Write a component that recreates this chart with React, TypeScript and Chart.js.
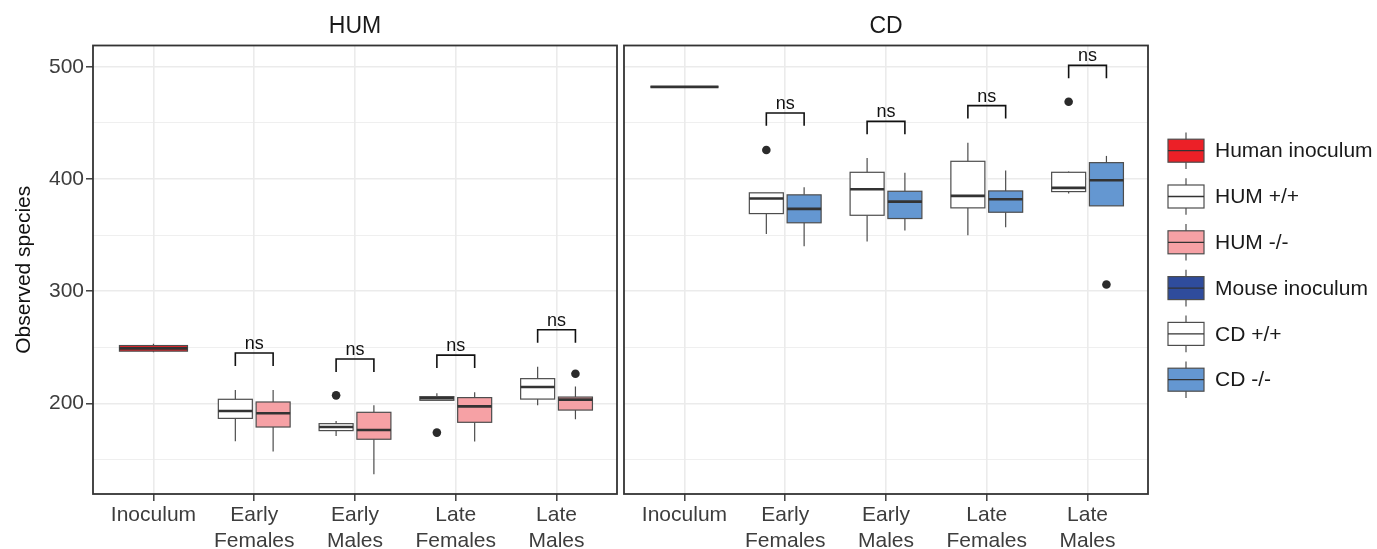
import React, { useEffect, useRef } from 'react';
import { Chart, registerables } from 'chart.js';

Chart.register(...registerables);

const FONT = '"Liberation Sans", Arial, Helvetica, sans-serif';

// ---------- data ----------
const CATEGORIES: (string | string[])[] = ['Inoculum', ['Early', 'Females'], ['Early', 'Males'], ['Late', 'Females'], ['Late', 'Males']];
const PANELS = ['HUM', 'CD'];
const Y_GRID = [150, 200, 250, 300, 350, 400, 450, 500];
const Y_MAJOR = [200, 300, 400, 500];
const Y_MIN = 119.2;
const Y_MAX = 518.9;
const Y_TITLE = 'Observed species';

// inoculum boxes: [min, q1, median, q3, max]
const HUM_INOCULUM = [245.5, 246.5, 249, 251.5, 253];
const CD_INOCULUM = [482, 482, 482, 482, 482];

// groups: Early Females, Early Males, Late Females, Late Males
const HUM_WT_MIN = [166.2, 170.9, 202.7, 198.2];
const HUM_WT_Q1 = [186.6, 175.7, 202.7, 203.8];
const HUM_WT_MED = [193.2, 178.9, 204.5, 214.5];
const HUM_WT_Q3 = [203.6, 181.9, 206.0, 222.0];
const HUM_WT_MAX = [211.9, 184.3, 208.9, 232.7];
const HUM_WT_OUTLIERS = [[2, 207.1], [3, 173.9]];

const HUM_KO_MIN = [157.0, 136.8, 165.9, 185.8];
const HUM_KO_Q1 = [178.9, 168.0, 183.1, 194.0];
const HUM_KO_MED = [191.1, 176.3, 197.3, 203.3];
const HUM_KO_Q3 = [201.2, 192.0, 205.1, 205.6];
const HUM_KO_MAX = [211.9, 198.2, 209.8, 214.9];
const HUM_KO_OUTLIERS = [[4, 226.4]];

const CD_WT_MIN = [351.0, 344.2, 349.8, 387.0];
const CD_WT_Q1 = [369.1, 367.6, 374.2, 388.7];
const CD_WT_MED = [382.5, 390.8, 384.9, 392.0];
const CD_WT_Q3 = [387.6, 405.9, 415.7, 405.9];
const CD_WT_MAX = [387.6, 418.7, 432.3, 406.5];
const CD_WT_OUTLIERS = [[1, 425.8], [4, 468.8]];

const CD_KO_MIN = [340.0, 354.0, 357.0, 376.0];
const CD_KO_Q1 = [360.9, 364.7, 370.3, 376.0];
const CD_KO_MED = [373.3, 379.8, 381.9, 398.8];
const CD_KO_Q3 = [385.8, 389.0, 389.3, 414.5];
const CD_KO_MAX = [392.6, 405.4, 407.4, 420.5];
const CD_KO_OUTLIERS = [[4, 305.9]];

// significance brackets (top of bracket, per group)
const HUM_BRACKETS = [244.8, 239.5, 243.0, 265.6];
const CD_BRACKETS = [458.8, 451.3, 465.3, 501.2];
const BRACKET_LABELS = ['ns', 'ns', 'ns', 'ns'];

const LEGEND_LABELS = ['Human inoculum', 'HUM +/+', 'HUM -/-', 'Mouse inoculum', 'CD +/+', 'CD -/-'];
const LEGEND_COLORS = ['#EC2027', '#FFFFFF', '#F6A1A5', '#2F4C9C', '#FFFFFF', '#6497D1'];

// ---------- helpers ----------
const statsOf = (mn: number[], q1: number[], md: number[], q3: number[], mx: number[]) =>
  mn.map((_, i) => [mn[i], q1[i], md[i], q3[i], mx[i]]);

const PANEL_DATA = [
  {
    inoc: HUM_INOCULUM, inocColor: LEGEND_COLORS[0],
    wt: statsOf(HUM_WT_MIN, HUM_WT_Q1, HUM_WT_MED, HUM_WT_Q3, HUM_WT_MAX), wtColor: LEGEND_COLORS[1],
    ko: statsOf(HUM_KO_MIN, HUM_KO_Q1, HUM_KO_MED, HUM_KO_Q3, HUM_KO_MAX), koColor: LEGEND_COLORS[2],
    wtOut: HUM_WT_OUTLIERS, koOut: HUM_KO_OUTLIERS, brackets: HUM_BRACKETS,
  },
  {
    inoc: CD_INOCULUM, inocColor: LEGEND_COLORS[3],
    wt: statsOf(CD_WT_MIN, CD_WT_Q1, CD_WT_MED, CD_WT_Q3, CD_WT_MAX), wtColor: LEGEND_COLORS[4],
    ko: statsOf(CD_KO_MIN, CD_KO_Q1, CD_KO_MED, CD_KO_Q3, CD_KO_MAX), koColor: LEGEND_COLORS[5],
    wtOut: CD_WT_OUTLIERS, koOut: CD_KO_OUTLIERS, brackets: CD_BRACKETS,
  },
];

const DODGE = 0.1875;
const HALF_W = 0.16875;
const INOC_HALF_W = 0.3375;
const BRACKET_TIP = 11.5;

const CANVAS_A = { left: 0, width: 625 };
const CANVAS_B = { left: 616, width: 761 };
const HEIGHT = 549;

function drawBox(ctx: CanvasRenderingContext2D, xs: any, ys: any, xc: number, hw: number, s: number[], fill: string) {
  const [mn, q1, md, q3, mx] = s;
  const x = xs.getPixelForValue(xc);
  const xl = xs.getPixelForValue(xc - hw);
  const xr = xs.getPixelForValue(xc + hw);
  const yMn = ys.getPixelForValue(mn);
  const yQ1 = ys.getPixelForValue(q1);
  const yMd = ys.getPixelForValue(md);
  const yQ3 = ys.getPixelForValue(q3);
  const yMx = ys.getPixelForValue(mx);
  ctx.save();
  ctx.strokeStyle = '#4d4d4d';
  ctx.lineWidth = 1.2;
  ctx.beginPath();
  ctx.moveTo(x, yMn); ctx.lineTo(x, yQ1);
  ctx.moveTo(x, yQ3); ctx.lineTo(x, yMx);
  ctx.stroke();
  ctx.fillStyle = fill;
  ctx.fillRect(xl, yQ3, xr - xl, yQ1 - yQ3);
  ctx.strokeRect(xl, yQ3, xr - xl, yQ1 - yQ3);
  ctx.strokeStyle = '#333333';
  ctx.lineWidth = 2.6;
  ctx.beginPath();
  ctx.moveTo(xl, yMd); ctx.lineTo(xr, yMd);
  ctx.stroke();
  ctx.restore();
}

function legendKey(ctx: CanvasRenderingContext2D, cx: number, cy: number, fill: string) {
  ctx.save();
  ctx.strokeStyle = '#4d4d4d';
  ctx.lineWidth = 1.2;
  ctx.beginPath();
  ctx.moveTo(cx, cy - 18.3); ctx.lineTo(cx, cy + 18.3);
  ctx.stroke();
  ctx.fillStyle = fill;
  ctx.fillRect(cx - 18, cy - 11.5, 36, 23);
  ctx.strokeRect(cx - 18, cy - 11.5, 36, 23);
  ctx.strokeStyle = '#333333';
  ctx.lineWidth = 1.3;
  ctx.beginPath();
  ctx.moveTo(cx - 18, cy); ctx.lineTo(cx + 18, cy);
  ctx.stroke();
  ctx.restore();
}

function makePlugin(panel: number, offsetLeft: number) {
  const d = PANEL_DATA[panel];
  return {
    id: 'boxplots' + panel,
    beforeDatasetsDraw(chart: any) {
      const { ctx, scales } = chart;
      const xs = scales.x, ys = scales.y;
      drawBox(ctx, xs, ys, 1, INOC_HALF_W, d.inoc, d.inocColor);
      d.wt.forEach((s, i) => drawBox(ctx, xs, ys, i + 2 - DODGE, HALF_W, s, d.wtColor));
      d.ko.forEach((s, i) => drawBox(ctx, xs, ys, i + 2 + DODGE, HALF_W, s, d.koColor));
    },
    afterDatasetsDraw(chart: any) {
      const { ctx, scales, chartArea } = chart;
      const xs = scales.x, ys = scales.y;
      ctx.save();
      ctx.strokeStyle = '#111111';
      ctx.lineWidth = 1.6;
      ctx.fillStyle = '#111111';
      ctx.font = `18px ${FONT}`;
      ctx.textAlign = 'center';
      ctx.textBaseline = 'alphabetic';
      d.brackets.forEach((top, i) => {
        const xl = xs.getPixelForValue(i + 2 - DODGE);
        const xr = xs.getPixelForValue(i + 2 + DODGE);
        const yt = ys.getPixelForValue(top);
        const yb = ys.getPixelForValue(top - BRACKET_TIP);
        ctx.beginPath();
        ctx.moveTo(xl, yb); ctx.lineTo(xl, yt); ctx.lineTo(xr, yt); ctx.lineTo(xr, yb);
        ctx.stroke();
        ctx.fillText(BRACKET_LABELS[i], xs.getPixelForValue(i + 2), yt - 4);
      });
      ctx.restore();
      ctx.save();
      ctx.strokeStyle = '#333333';
      ctx.lineWidth = 1.8;
      ctx.strokeRect(chartArea.left, chartArea.top, chartArea.right - chartArea.left, chartArea.bottom - chartArea.top);
      ctx.restore();
    },
    afterDraw(chart: any) {
      const { ctx, chartArea } = chart;
      ctx.save();
      ctx.fillStyle = '#1a1a1a';
      ctx.font = `23px ${FONT}`;
      ctx.textAlign = 'center';
      ctx.textBaseline = 'alphabetic';
      ctx.fillText(PANELS[panel], (chartArea.left + chartArea.right) / 2, 33);
      ctx.restore();
      if (panel === 1) {
        ctx.save();
        ctx.font = `21px ${FONT}`;
        ctx.textAlign = 'left';
        ctx.textBaseline = 'middle';
        ctx.fillStyle = '#1a1a1a';
        LEGEND_LABELS.forEach((lab, i) => {
          const cy = 150.7 + i * 45.8;
          legendKey(ctx, 1186 - offsetLeft, cy, LEGEND_COLORS[i]);
          ctx.fillText(lab, 1215 - offsetLeft, cy + 1);
        });
        ctx.restore();
      }
    },
  };
}

function makeConfig(panel: number): any {
  const isA = panel === 0;
  const d = PANEL_DATA[panel];
  const points = [
    ...d.wtOut.map(([g, v]) => ({ x: g + 1 - DODGE, y: v })),
    ...d.koOut.map(([g, v]) => ({ x: g + 1 + DODGE, y: v })),
  ];
  const tickFont = { family: FONT, size: 21 };
  return {
    type: 'scatter',
    data: {
      datasets: [{
        data: points,
        pointRadius: 4.3,
        pointHoverRadius: 4.3,
        pointBackgroundColor: '#2b2b2b',
        pointBorderWidth: 0,
        borderWidth: 0,
      }],
    },
    options: {
      responsive: false,
      maintainAspectRatio: false,
      animation: false,
      devicePixelRatio: 1,
      events: [],
      layout: {
        padding: isA
          ? { left: 0, right: 8, top: 45.5, bottom: 0 }
          : { left: 8, right: 229, top: 45.5, bottom: 0 },
      },
      plugins: {
        legend: { display: false },
        tooltip: { enabled: false },
        title: { display: false },
      },
      scales: {
        x: {
          type: 'linear',
          min: 0.4,
          max: 5.6,
          afterBuildTicks: (s: any) => { s.ticks = CATEGORIES.map((_, i) => ({ value: i + 1 })); },
          afterFit: (s: any) => { s.height = HEIGHT - 494; },
          ticks: {
            callback: (v: number) => CATEGORIES[Math.round(v) - 1],
            font: tickFont,
            color: '#3d3d3d',
            padding: 2,
            maxRotation: 0,
            minRotation: 0,
            autoSkip: false,
          },
          grid: {
            color: '#EBEBEB',
            lineWidth: 1.6,
            tickColor: '#333333',
            tickLength: 7,
            tickWidth: 1.4,
          },
          border: { display: false },
        },
        y: {
          type: 'linear',
          min: Y_MIN,
          max: Y_MAX,
          afterBuildTicks: (s: any) => { s.ticks = Y_GRID.map((v) => ({ value: v })); },
          afterFit: (s: any) => { s.width = isA ? 93 : 0; },
          ticks: {
            display: isA,
            callback: (v: number) => (Y_MAJOR.includes(v) ? String(v) : ''),
            font: tickFont,
            color: '#3d3d3d',
            padding: 2,
          },
          grid: {
            color: '#EBEBEB',
            lineWidth: (c: any) => (c.tick && Y_MAJOR.includes(c.tick.value) ? 1.6 : 0.8),
            tickColor: (c: any) => (c.tick && Y_MAJOR.includes(c.tick.value) ? '#333333' : 'rgba(0,0,0,0)'),
            tickLength: 7,
            tickWidth: 1.4,
            drawTicks: isA,
          },
          border: { display: false },
          title: {
            display: isA,
            text: Y_TITLE,
            font: { family: FONT, size: 21 },
            color: '#111111',
            padding: { top: 12, bottom: 0 },
          },
        },
      },
    },
    plugins: [makePlugin(panel, isA ? CANVAS_A.left : CANVAS_B.left)],
  };
}

export default function App() {
  const refA = useRef<HTMLCanvasElement>(null);
  const refB = useRef<HTMLCanvasElement>(null);
  useEffect(() => {
    const a = new Chart(refA.current as HTMLCanvasElement, makeConfig(0));
    const b = new Chart(refB.current as HTMLCanvasElement, makeConfig(1));
    return () => { a.destroy(); b.destroy(); };
  }, []);
  return (
    <div style={{ position: 'absolute', left: 0, top: 0, width: 1377, height: HEIGHT, background: '#ffffff', overflow: 'hidden' }}>
      <canvas ref={refA} width={CANVAS_A.width} height={HEIGHT}
        style={{ position: 'absolute', left: CANVAS_A.left, top: 0, width: CANVAS_A.width, height: HEIGHT }} />
      <canvas ref={refB} width={CANVAS_B.width} height={HEIGHT}
        style={{ position: 'absolute', left: CANVAS_B.left, top: 0, width: CANVAS_B.width, height: HEIGHT }} />
    </div>
  );
}
